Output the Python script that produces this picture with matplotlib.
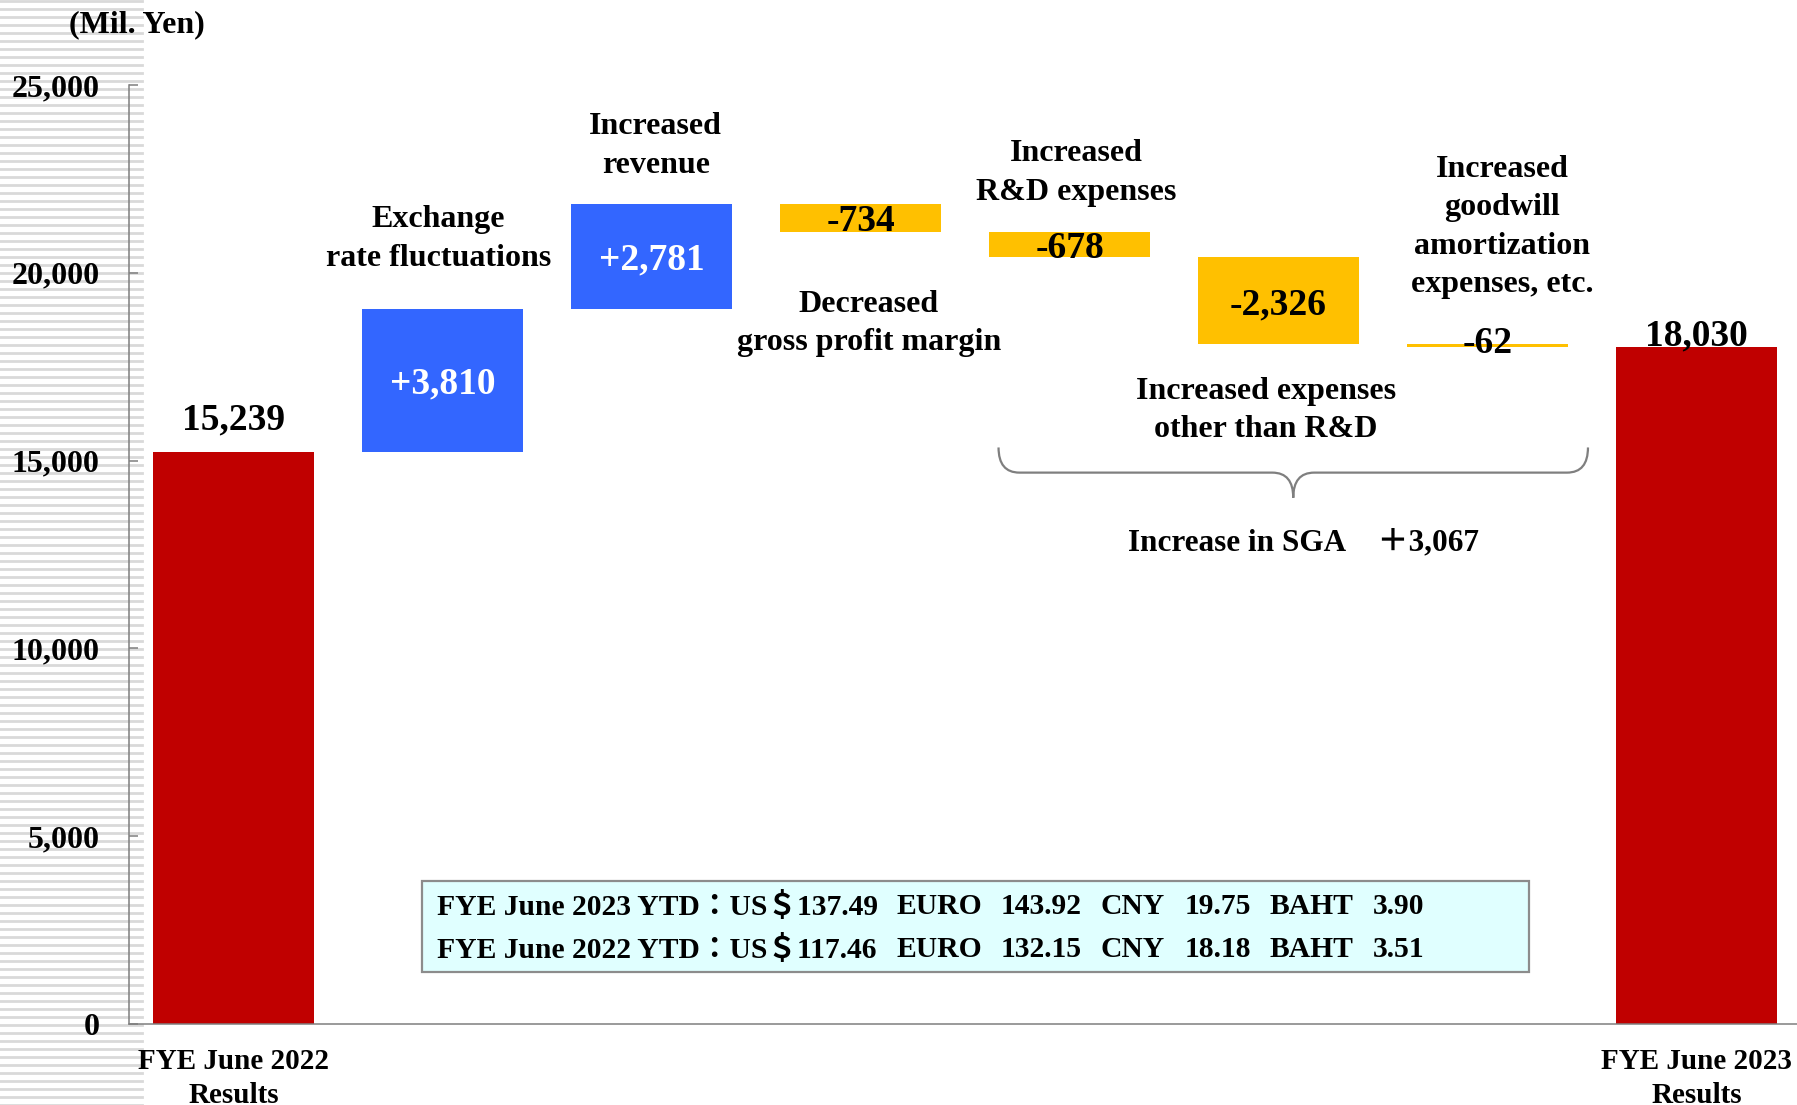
import numpy as np
import matplotlib
matplotlib.use('Agg')
import matplotlib.pyplot as plt
from matplotlib.lines import Line2D
from matplotlib.patches import Rectangle, PathPatch
from matplotlib.path import Path

plt.rcParams['font.family'] = ['Liberation Serif', 'Noto Sans CJK JP']
plt.rcParams['font.weight'] = 'bold'

# data (Mil. Yen)
start_label = 'FYE June 2022\nResults'
end_label = 'FYE June 2023\nResults'
start_value = 15239
end_value = 18030
step_labels = ['Exchange\nrate fluctuations', 'Increased\nrevenue',
               'Decreased\ngross profit margin', 'Increased\nR&D expenses',
               'Increased expenses\nother than R&D',
               'Increased\ngoodwill\namortization\nexpenses, etc.']
step_values = [3810, 2781, -734, -678, -2326, -62]
sga_total = 3067
currencies = ['EURO', 'CNY', 'BAHT']
usd_rates = ['137.49', '117.46']
other_rates = [['143.92', '19.75', '3.90'], ['132.15', '18.18', '3.51']]
rate_years = ['2023', '2022']

RED = '#C00000'
BLUE = '#3366FF'
YELLOW = '#FFC000'

fig = plt.figure(figsize=(17.97, 11.05), dpi=100)

# striped strip on the left edge
for yy in np.arange(0, 1105, 8):
    fig.add_artist(Line2D([0, 142 / 1797], [yy / 1105, yy / 1105], color='#d9d9d9',
                          lw=2.0, zorder=-5, transform=fig.transFigure))

ax = fig.add_axes([129 / 1797, 81 / 1105, 1 - 129 / 1797, 939 / 1105])
ax.set_facecolor('none')

n = len(step_values) + 2
width = 0.77

ax.bar(0, start_value, width=width, color=RED, zorder=2)
ax.bar(n - 1, end_value, width=width, color=RED, zorder=2)

level = start_value
for i, v in enumerate(step_values):
    bottom = level if v > 0 else level + v
    col = BLUE if v > 0 else YELLOW
    ax.bar(i + 1, abs(v), bottom=bottom, width=width, color=col, zorder=2)
    txt = f'+{v:,}' if v > 0 else f'{v:,}'
    tcol = 'white' if v > 0 else 'black'
    ty = bottom + abs(v) / 2
    if abs(v) < 200:
        ty = bottom + abs(v) + 120   # thin bar: label sits just over it
    ax.text(i + 1, ty, txt, ha='center', va='center_baseline',
            fontsize=27, color=tcol, fontweight='bold', zorder=3)
    level += v

ax.text(0, start_value + 590, f'{start_value:,}', ha='center', va='baseline',
        fontsize=27, fontweight='bold')
ax.text(n - 1, end_value + 40, f'{end_value:,}', ha='center', va='baseline',
        fontsize=27, fontweight='bold')

# category annotations
label_pos = [(0.98, 20904), (2.02, 23378), (3.04, 18644), (4.03, 22660),
             (4.94, 16330), (6.07, 21223)]
for lab, (lx, ly) in zip(step_labels, label_pos):
    ax.text(lx, ly, lab, ha='center', va='center', fontsize=23,
            fontweight='bold', linespacing=1.43)

# brace under the SGA items
xl, xr, xc = 3.66, 6.48, 5.07
ytop, ymid, ytip = 15350, 14680, 14010
dx = 0.1
verts = [(xl, ytop), (xl, ymid), (xl + dx, ymid),
         (xc - dx, ymid),
         (xc, ymid), (xc, ytip),
         (xc, ymid), (xc + dx, ymid),
         (xr - dx, ymid),
         (xr, ymid), (xr, ytop)]
codes = [Path.MOVETO, Path.CURVE3, Path.CURVE3,
         Path.LINETO,
         Path.CURVE3, Path.CURVE3,
         Path.CURVE3, Path.CURVE3,
         Path.LINETO,
         Path.CURVE3, Path.CURVE3]
ax.add_patch(PathPatch(Path(verts, codes), facecolor='none', edgecolor='#7f7f7f',
                       lw=1.6, zorder=3))
ax.text(5.12, 12819, f'Increase in SGA\u3000\uff0b{sga_total:,}', ha='center',
        va='center', fontsize=22.5, fontweight='bold')

# exchange rate box
ax.add_patch(Rectangle((0.90, 1383), 5.30, 2420, facecolor='#E0FFFF',
                       edgecolor='#8c8c8c', lw=1.6, zorder=3))
col_x = [3.170, 3.670, 4.147, 4.552, 4.958, 5.451]
for ty, yr, usd, rr in zip([3138, 1995], rate_years, usd_rates, other_rates):
    kw = dict(ha='left', va='center', fontsize=21.3, fontweight='bold', zorder=4)
    ax.text(0.974, ty, f'FYE June {yr} YTD\uff1aUS\uff04{usd}', **kw)
    parts = [currencies[0], rr[0], currencies[1], rr[1], currencies[2], rr[2]]
    for cx, p in zip(col_x, parts):
        ax.text(cx, ty, p, **kw)

ax.text(-0.46, 25000 + 1610, '(Mil. Yen)', ha='center', va='center',
        fontsize=23, fontweight='bold', clip_on=False)

ax.set_xlim(-0.5, n - 0.52)
ax.set_ylim(0, 25000)
ax.set_yticks(np.arange(0, 25001, 5000))
ax.set_yticklabels([f'{t:,}' for t in range(0, 25001, 5000)], fontsize=23,
                   fontweight='bold')
ax.set_xticks([0, n - 1])
ax.set_xticklabels([start_label, end_label], fontsize=21, fontweight='bold',
                   linespacing=1.33)
ax.tick_params(axis='y', direction='in', length=6.5, width=1.1, color='#7f7f7f',
               pad=21)
ax.tick_params(axis='x', length=0, pad=17)
for s in ['top', 'right']:
    ax.spines[s].set_visible(False)
for s in ['left', 'bottom']:
    ax.spines[s].set_color('#7f7f7f')
    ax.spines[s].set_linewidth(1.1)

fig.savefig('out.png', dpi=100)
